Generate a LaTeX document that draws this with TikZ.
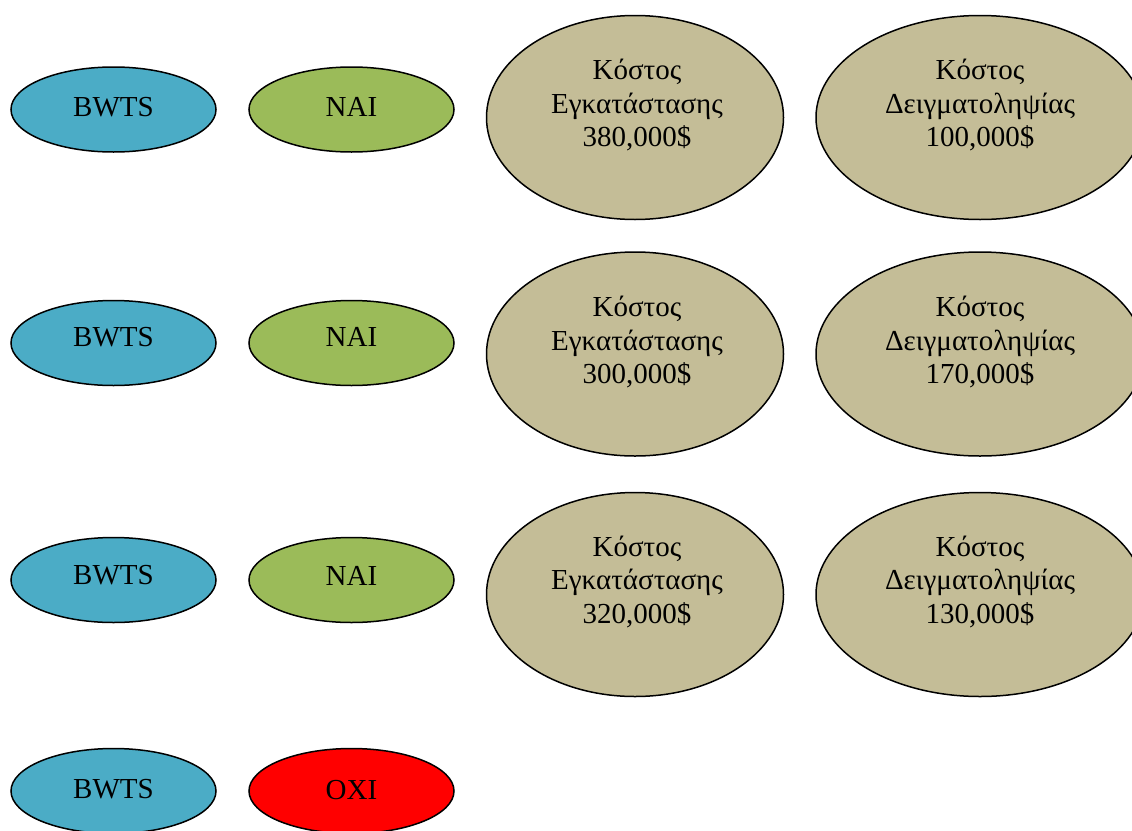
\documentclass[tikz,border=0pt]{standalone}
\usepackage{fontspec}
\setmainfont{Liberation Serif}
\usetikzlibrary{shapes.geometric}
\definecolor{bwtsblue}{HTML}{4BACC6}
\definecolor{naigreen}{HTML}{9BBB59}
\definecolor{costtan}{HTML}{C4BD97}
\definecolor{oxired}{HTML}{FF0000}
\tikzset{
  oval/.style={ellipse, draw=black, line width=1.5pt, inner sep=0pt},
  smalloval/.style={oval, minimum width=205pt, minimum height=85pt},
  bigoval/.style={oval, minimum width=297pt, minimum height=204pt},
  bigovalR/.style={oval, minimum width=328pt, minimum height=204pt},
  lbl/.style={font=\fontsize{29}{33.5}\selectfont, align=center, inner sep=0pt}
}
\begin{document}
\begin{tikzpicture}[x=1pt,y=-1pt]
\clip (0,0) rectangle (1132,830);
\fill[white] (0,0) rectangle (1132,830);
% row 1
\node[smalloval, fill=bwtsblue] (b1) at (113.5,109.5) {};
\node[smalloval, fill=naigreen] (n1) at (351.5,109.5) {};
\node[bigoval, fill=costtan] (i1) at (635,117.5) {};
\node[bigovalR, fill=costtan] (s1) at (980,117.5) {};
\node[lbl] (tb1) at (113.5,107.3) {BWTS};
\node[lbl] (tn1) at (351.5,107.3) {ΝΑΙ};
\node[lbl] (ti1) at (637,105.5) {Κόστος\\Εγκατάστασης\\380,000\$};
\node[lbl] (ts1) at (980,105.5) {Κόστος\\Δειγματοληψίας\\100,000\$};
% row 2
\node[smalloval, fill=bwtsblue] (b2) at (113.5,343) {};
\node[smalloval, fill=naigreen] (n2) at (351.5,343) {};
\node[bigoval, fill=costtan] (i2) at (635,354) {};
\node[bigovalR, fill=costtan] (s2) at (980,354) {};
\node[lbl] (tb2) at (113.5,337.3) {BWTS};
\node[lbl] (tn2) at (351.5,337.3) {ΝΑΙ};
\node[lbl] (ti2) at (637,342.5) {Κόστος\\Εγκατάστασης\\300,000\$};
\node[lbl] (ts2) at (980,342.5) {Κόστος\\Δειγματοληψίας\\170,000\$};
% row 3
\node[smalloval, fill=bwtsblue] (b3) at (113.5,580) {};
\node[smalloval, fill=naigreen] (n3) at (351.5,580) {};
\node[bigoval, fill=costtan] (i3) at (635,594.5) {};
\node[bigovalR, fill=costtan] (s3) at (980,594.5) {};
\node[lbl] (tb3) at (113.5,575.6) {BWTS};
\node[lbl] (tn3) at (351.5,575.6) {ΝΑΙ};
\node[lbl] (ti3) at (637,581.5) {Κόστος\\Εγκατάστασης\\320,000\$};
\node[lbl] (ts3) at (980,581.5) {Κόστος\\Δειγματοληψίας\\130,000\$};
% row 4
\node[smalloval, fill=bwtsblue] (b4) at (113.5,791) {};
\node[smalloval, fill=oxired] (n4) at (351.5,791) {};
\node[lbl] (tb4) at (113.5,789.6) {BWTS};
\node[lbl] (tn4) at (351.5,789.6) {ΟΧΙ};
\end{tikzpicture}
\end{document}
